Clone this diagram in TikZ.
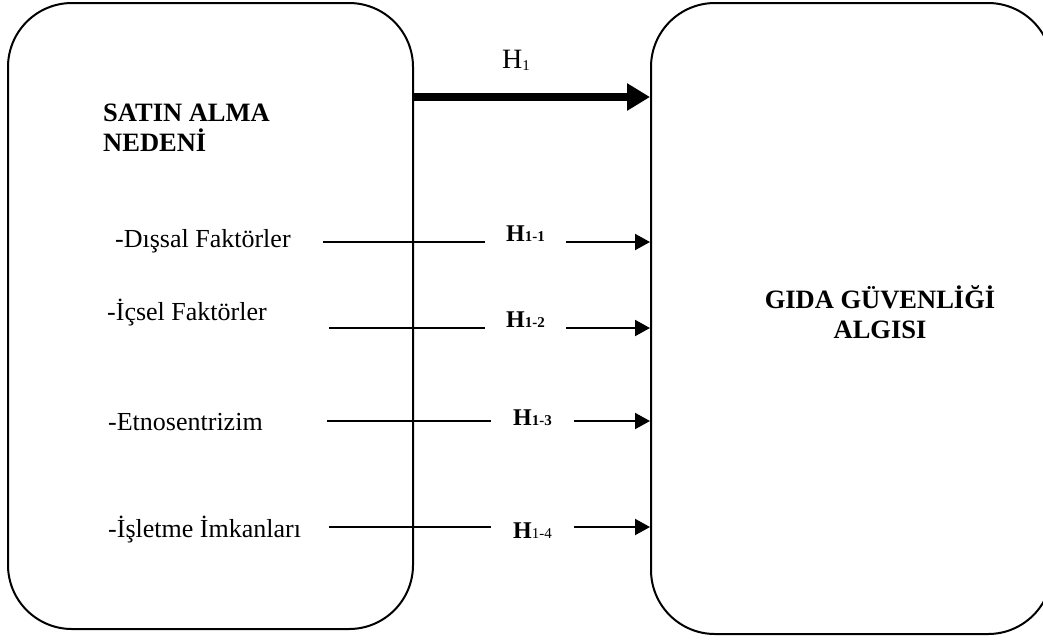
\documentclass[tikz,border=0pt]{standalone}
\usepackage{fontspec}
\setmainfont{Liberation Serif}
\usetikzlibrary{arrows.meta}
\newcommand\mysub[1]{{\fontsize{15}{15}\selectfont #1}}
\begin{document}
\begin{tikzpicture}[x=1pt,y=-1pt,
  box/.style={draw, line width=2pt, rounded corners=64pt, inner sep=0pt},
  lbl/.style={inner sep=0pt, anchor=base west, font=\fontsize{26}{30}\selectfont},
  hyp/.style={inner ysep=0pt, inner xsep=21pt, anchor=base, font=\fontsize{24}{28}\selectfont\bfseries},
  title/.style={inner sep=0pt, font=\fontsize{26.5}{29.5}\selectfont\bfseries},
  thinline/.style={line width=2pt},
  thinarrow/.style={line width=2pt, -{Triangle[length=15pt,width=16pt]}},
  thickarrow/.style={line width=8pt, -{Triangle[length=23pt,width=26pt]}}]
\useasboundingbox (0,0) rectangle (1043,641);
% boxes
\node[box, minimum width=405pt, minimum height=626pt] (L) at (210.5,316) {};
\node[box, minimum width=401pt, minimum height=631pt] (R) at (851.5,318.5) {};
% titles
\node[title, anchor=north west, align=left] (satin) at (103,104) {SATIN ALMA\\NEDENİ};
\node[title, align=center] (gida) at (880,312) {GIDA GÜVENLİĞİ\\ALGISI};
% main hypothesis
\node[inner sep=0pt, anchor=base west, font=\fontsize{28}{30}\selectfont] (H1) at (502,68) {H\raisebox{-2pt}{\mysub{1}}};
\coordinate (t) at (413,97);
\draw[thickarrow] (t -| L.east) -- (t -| R.west);
% factor labels
\node[lbl] (f1) at (115,247) {-Dışsal Faktörler};
\node[lbl] (f2) at (107,320) {-İçsel Faktörler};
\node[lbl] (f3) at (108,430) {-Etnosentrizim};
\node[lbl] (f4) at (108,537) {-İşletme İmkanları};
% sub hypotheses
\node[hyp] (h1) at (525.5,241) {H\mysub{1-1}};
\node[hyp] (h2) at (525.5,327) {H\mysub{1-2}};
\node[hyp, inner xsep=22pt] (h3) at (532.5,425) {H\mysub{1-3}};
\node[hyp, inner xsep=22pt] (h4) at (532.5,538) {H\mysub{\mdseries 1-4}};
% line start points
\coordinate (s1) at (323,242);
\coordinate (s2) at (329,328);
\coordinate (s3) at (327,421);
\coordinate (s4) at (329,527);
\foreach \i in {1,2,3,4}{
  \draw[thinline] (s\i) -- (s\i -| h\i.west);
  \draw[thinarrow] (s\i -| h\i.east) -- (s\i -| R.west);
}
\end{tikzpicture}
\end{document}
